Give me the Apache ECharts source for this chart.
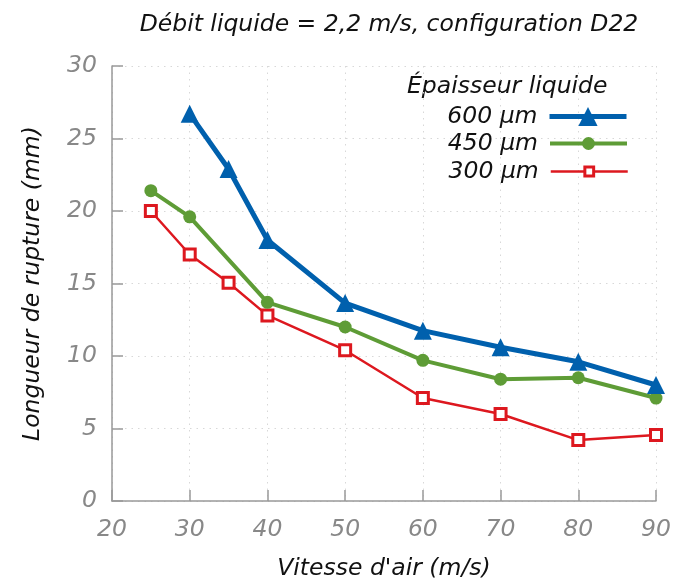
<!DOCTYPE html>
<html><head><meta charset="utf-8">
<script src="https://cdn.jsdelivr.net/npm/echarts@6/dist/echarts.min.js"></script>
<style>html,body{margin:0;padding:0;background:#fff}#c{width:675px;height:583px}</style>
</head><body><div id="c"></div>
<script>
const titleText = "Débit liquide = 2,2 m/s, configuration D22";
const xName = "Vitesse d'air (m/s)";
const yName = "Longueur de rupture (mm)";
const legendTitle = "Épaisseur liquide";
const seriesNames = ["600 µm", "450 µm", "300 µm"];
const x600 = [30, 35, 40, 50, 60, 70, 80, 90];
const y600 = [26.7, 22.9, 18.0, 13.65, 11.75, 10.6, 9.6, 8.0];
const x450 = [25, 30, 40, 50, 60, 70, 80, 90];
const y450 = [21.4, 19.6, 13.7, 12.0, 9.7, 8.4, 8.5, 7.1];
const x300 = [25, 30, 35, 40, 50, 60, 70, 80, 90];
const y300 = [20.0, 17.0, 15.05, 12.8, 10.4, 7.1, 6.0, 4.2, 4.55];

const zip = (xs, ys) => xs.map((x, i) => [x, ys[i]]);
const FONT = "DejaVu Sans";
const FS = 23.5;
const chart = echarts.init(document.getElementById('c'), null, {renderer: 'canvas'});
const axisGray = '#999999';
const C600 = '#0060ad', C450 = '#5e9c36', C300 = '#dd181f';
const legendText = {fontFamily: FONT, fontStyle: 'italic', fontSize: FS, color: '#111', padding: [0, 7, 0, 0]};
const legendItems = [
  {name: seriesNames[0], lineStyle: {width: 5, color: C600}, itemStyle: {color: C600}},
  {name: seriesNames[1], lineStyle: {width: 4, color: C450}, itemStyle: {color: C450}},
  {name: seriesNames[2], lineStyle: {width: 2.5, color: C300}, itemStyle: {color: '#fff', borderColor: C300, borderWidth: 3}}
];
const legendTops = [100, 127, 155];
const legendSizes = [24, 16, 11];
chart.setOption({
  animation: false,
  title: {
    text: titleText, left: 384, top: 8, textAlign: 'center',
    textStyle: {fontFamily: FONT, fontStyle: 'italic', fontWeight: 'normal', fontSize: FS, color: '#111'}
  },
  graphic: [{
    type: 'text', left: 407, top: 75,
    style: {text: legendTitle, font: 'italic 23.5px "DejaVu Sans"', fill: '#111'}
  }],
  legend: legendItems.map((it, i) => ({
    orient: 'vertical', right: 41, top: legendTops[i], align: 'right',
    itemWidth: 77, itemHeight: legendSizes[i], selectedMode: false,
    textStyle: legendText, data: [it]
  })),
  grid: {left: 112, right: 19, top: 66, bottom: 82, outerBoundsMode: 'none', containLabel: false},
  xAxis: {
    type: 'value', min: 20, max: 90, interval: 10,
    name: xName, nameLocation: 'middle', nameGap: 56,
    nameTextStyle: {fontFamily: FONT, fontStyle: 'italic', fontSize: FS, color: '#111'},
    axisLine: {show: true, lineStyle: {color: axisGray, width: 1.5}},
    axisTick: {show: true, inside: true, length: 11, lineStyle: {color: axisGray, width: 1.5}},
    axisLabel: {fontFamily: FONT, fontStyle: 'italic', fontSize: FS, color: '#888', margin: 17},
    splitLine: {show: true, lineStyle: {color: '#d8d8d8', type: [1.5, 5], width: 1}}
  },
  yAxis: {
    type: 'value', min: 0, max: 30, interval: 5,
    name: yName, nameLocation: 'middle', nameGap: 68,
    nameTextStyle: {fontFamily: FONT, fontStyle: 'italic', fontSize: FS, color: '#111'},
    axisLine: {show: true, lineStyle: {color: axisGray, width: 1.5}},
    axisTick: {show: true, inside: true, length: 11, lineStyle: {color: axisGray, width: 1.5}},
    axisLabel: {fontFamily: FONT, fontStyle: 'italic', fontSize: FS, color: '#888', margin: 15},
    splitLine: {show: true, lineStyle: {color: '#d8d8d8', type: [1.5, 5], width: 1}}
  },
  series: [
    {name: seriesNames[0], type: 'line', data: zip(x600, y600), color: C600,
     lineStyle: {width: 5, color: C600}, symbol: 'triangle', symbolSize: 18,
     itemStyle: {color: C600}, z: 5},
    {name: seriesNames[1], type: 'line', data: zip(x450, y450), color: C450,
     lineStyle: {width: 4, color: C450}, symbol: 'circle', symbolSize: 13,
     itemStyle: {color: C450}, z: 4},
    {name: seriesNames[2], type: 'line', data: zip(x300, y300), color: C300,
     lineStyle: {width: 2.5, color: C300}, symbol: 'rect', symbolSize: 11,
     itemStyle: {color: '#ffffff', borderColor: C300, borderWidth: 3}, z: 3}
  ]
});
</script></body></html>
